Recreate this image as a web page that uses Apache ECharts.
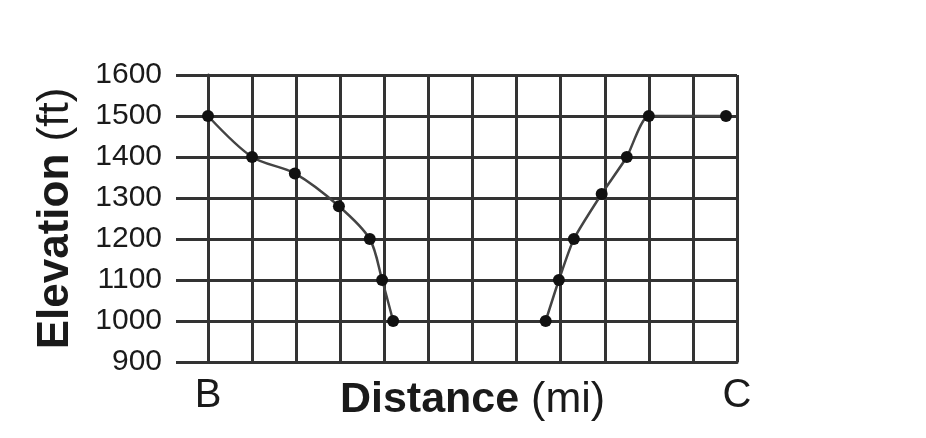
<!DOCTYPE html>
<html>
<head>
<meta charset="utf-8">
<script src="https://cdn.jsdelivr.net/npm/echarts@6/dist/echarts.min.js"></script>
<style>
html,body{margin:0;padding:0;background:#fff;}
#c{width:926px;height:438px;}
</style>
</head>
<body>
<div id="c"></div>
<script>
// Data
const xTickLabels = ['B','','','','','','','','','','','','C'];
const leftDist  = [0, 1, 1.97, 2.97, 3.67, 3.95, 4.2];
const leftElev  = [1500, 1400, 1360, 1280, 1200, 1100, 1000];
const rightDist = [7.66, 7.96, 8.3, 8.93, 9.5, 10, 11.75];
const rightElev = [1000, 1100, 1200, 1310, 1400, 1500, 1500];

const FONT = 'Liberation Sans, Arial, sans-serif';
const GRID = '#333';

function pairs(xs, ys){ return xs.map((x,i)=>[x, ys[i]]); }

const chart = echarts.init(document.getElementById('c'), null, {renderer:'canvas'});
chart.setOption({
  backgroundColor:'#fff',
  animation:false,
  grid:{left:208, right:189, top:75, bottom:76, containLabel:false, outerBoundsMode:'none'},
  xAxis:{
    type:'value', min:0, max:12, interval:1,
    name:'{b|Distance }{r|(mi)}',
    nameLocation:'middle', nameGap:17, nameMoveOverlap:false,
    nameTextStyle:{
      rich:{
        b:{fontFamily:FONT, fontSize:43, fontWeight:'bold', color:'#1a1a1a'},
        r:{fontFamily:FONT, fontSize:43, fontWeight:'normal', color:'#1a1a1a'}
      }
    },
    axisLine:{show:true, lineStyle:{color:GRID, width:3}},
    axisTick:{show:false},
    axisLabel:{
      show:true, margin:14, fontFamily:FONT, fontSize:40, color:'#1a1a1a',
      showMinLabel:true, showMaxLabel:true,
      formatter:(v)=> xTickLabels[Math.round(v)] || ''
    },
    splitLine:{show:true, lineStyle:{color:GRID, width:3}}
  },
  yAxis:{
    type:'value', min:900, max:1600, interval:100,
    name:'{b|Elevation }{r|(ft)}',
    nameLocation:'middle', nameGap:130, nameRotate:90, nameMoveOverlap:false,
    nameTextStyle:{
      rich:{
        b:{fontFamily:FONT, fontSize:44, fontWeight:'bold', color:'#1a1a1a'},
        r:{fontFamily:FONT, fontSize:44, fontWeight:'normal', color:'#1a1a1a'}
      }
    },
    axisLine:{show:true, lineStyle:{color:GRID, width:3}},
    axisTick:{show:true, inside:false, length:32, lineStyle:{color:GRID, width:3}},
    axisLabel:{margin:46, fontFamily:FONT, fontSize:30, color:'#1a1a1a', formatter:(v)=>String(v)},
    splitLine:{show:true, lineStyle:{color:GRID, width:3}}
  },
  series:[
    {
      type:'line', data:pairs(leftDist, leftElev), smooth:0.3,
      symbol:'circle', symbolSize:12,
      itemStyle:{color:'#111'},
      lineStyle:{color:'#444', width:2.5}
    },
    {
      type:'line', data:pairs(rightDist, rightElev), smooth:0.2,
      symbol:'circle', symbolSize:12,
      itemStyle:{color:'#111'},
      lineStyle:{color:'#444', width:2.5}
    }
  ]
});
</script>
</body>
</html>
